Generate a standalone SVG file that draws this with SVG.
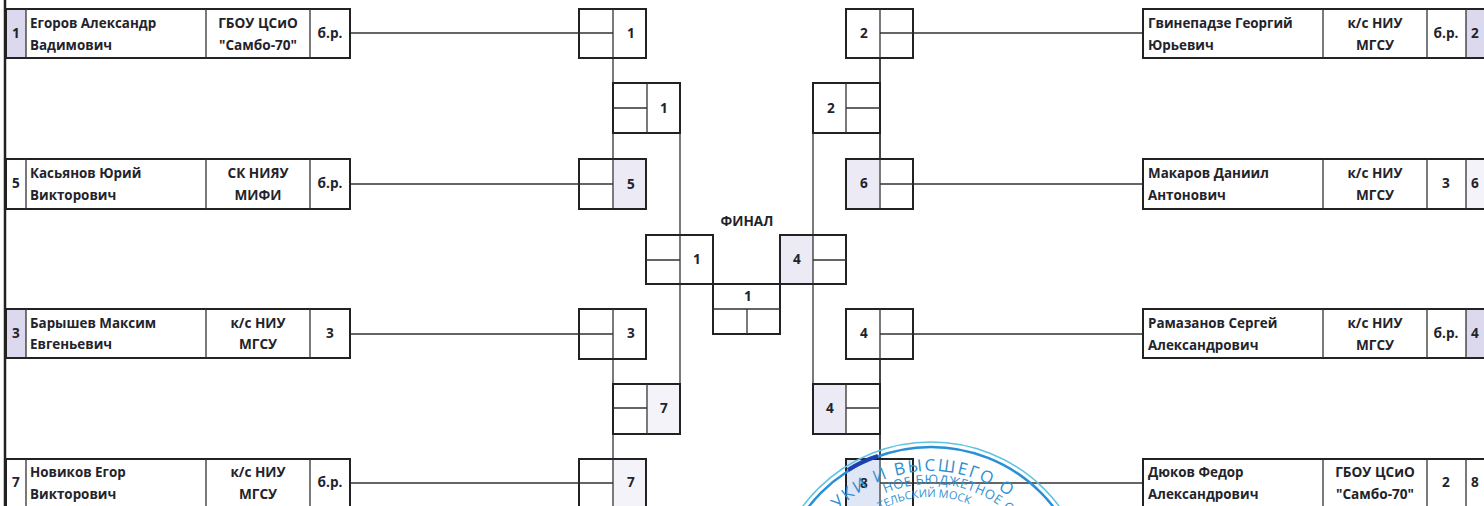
<svg xmlns="http://www.w3.org/2000/svg" width="1484" height="506" viewBox="0 0 1484 506">
<defs>
<path id="a1" d="M800 602A131 131 0 0 1 1062 602"/>
<path id="a2" d="M813 602A118 118 0 0 1 1049 602"/>
<path id="a3" d="M826 602A105 105 0 0 1 1036 602"/>
</defs>
<style>
text{font-family:"Open Sans","Liberation Sans",sans-serif;font-weight:700;fill:#23232b;font-size:13.6px}
.c{text-anchor:middle}
.n{font-size:13.4px}
.box{fill:#fff;stroke:#222;stroke-width:2}
.th{fill:none;stroke:#333;stroke-width:1.3}
.con{fill:none;stroke:#333;stroke-width:1.3}
.seed{fill:#dcd8ee}
.mid{fill:#ebeaf5}
.pale{fill:#f4f3f9}
.st{fill:none}
.stt{fill:#2f8fd0;font-weight:400}
</style>
<rect width="1484" height="506" fill="#fff"/>
<g id="connectors">
<path class="con" d="M5 0V506" style="stroke-width:2.5;stroke:#222"/>
<path class="con" d="M350 33H613M350 184H613M350 334H613M350 483H613"/>
<path class="con" d="M880 33H1143M880 184H1143M880 334H1143M880 483H1143"/>
<path class="con" d="M613 58V83M613 133V158M613 359V384M613 434V459"/>
<path class="con" d="M880 58V83M880 133V158M880 359V384M880 434V459" style="stroke-width:1.8"/>
<path class="con" d="M680 133V234M680 284V384M813 133V234M813 284V384"/>
</g>
<g id="p1"><rect class="box" x="6" y="9" width="344" height="49"/><rect class="seed" x="7" y="10" width="19" height="47"/><path class="th" d="M26 9V58M206 9V58M310 9V58"/><text class="c" x="16" y="38">1</text><text class="n" x="30" y="28">Егоров Александр</text><text class="n" x="30" y="50">Вадимович</text><text class="c" x="258" y="28">ГБОУ ЦСиО</text><text class="c" x="258" y="50">"Самбо-70"</text><text class="c" x="330" y="38">б.р.</text></g>
<g id="p5"><rect class="box" x="6" y="159" width="344" height="50"/><path class="th" d="M26 159V209M206 159V209M310 159V209"/><text class="c" x="16" y="188">5</text><text class="n" x="30" y="178">Касьянов Юрий</text><text class="n" x="30" y="200">Викторович</text><text class="c" x="258" y="178">СК НИЯУ</text><text class="c" x="258" y="200">МИФИ</text><text class="c" x="330" y="188">б.р.</text></g>
<g id="p3"><rect class="box" x="6" y="309" width="344" height="49"/><rect class="seed" x="7" y="310" width="19" height="47"/><path class="th" d="M26 309V358M206 309V358M310 309V358"/><text class="c" x="16" y="338">3</text><text class="n" x="30" y="328">Барышев Максим</text><text class="n" x="30" y="349">Евгеньевич</text><text class="c" x="258" y="328">к/с НИУ</text><text class="c" x="258" y="349">МГСУ</text><text class="c" x="330" y="338">3</text></g>
<g id="p7"><rect class="box" x="6" y="459" width="344" height="60"/><path class="th" d="M26 459V506M206 459V506M310 459V506"/><text class="c" x="16" y="487">7</text><text class="n" x="30" y="477">Новиков Егор</text><text class="n" x="30" y="499">Викторович</text><text class="c" x="258" y="477">к/с НИУ</text><text class="c" x="258" y="499">МГСУ</text><text class="c" x="330" y="487">б.р.</text></g>
<g id="p2"><rect class="box" x="1143" y="9" width="350" height="49"/><rect class="seed" x="1466" y="10" width="18" height="47"/><path class="th" d="M1323 9V58M1427 9V58M1466 9V58"/><text class="c" x="1475" y="38">2</text><text class="n" x="1148" y="28">Гвинепадзе Георгий</text><text class="n" x="1148" y="50">Юрьевич</text><text class="c" x="1375" y="28">к/с НИУ</text><text class="c" x="1375" y="50">МГСУ</text><text class="c" x="1446" y="38">б.р.</text></g>
<g id="p6"><rect class="box" x="1143" y="159" width="350" height="50"/><rect class="pale" x="1466" y="160" width="18" height="48"/><path class="th" d="M1323 159V209M1427 159V209M1466 159V209"/><text class="c" x="1475" y="188">6</text><text class="n" x="1148" y="178">Макаров Даниил</text><text class="n" x="1148" y="200">Антонович</text><text class="c" x="1375" y="178">к/с НИУ</text><text class="c" x="1375" y="200">МГСУ</text><text class="c" x="1446" y="188">3</text></g>
<g id="p4"><rect class="box" x="1143" y="309" width="350" height="49"/><rect class="seed" x="1466" y="310" width="18" height="47"/><path class="th" d="M1323 309V358M1427 309V358M1466 309V358"/><text class="c" x="1475" y="338">4</text><text class="n" x="1148" y="328">Рамазанов Сергей</text><text class="n" x="1148" y="350">Александрович</text><text class="c" x="1375" y="328">к/с НИУ</text><text class="c" x="1375" y="350">МГСУ</text><text class="c" x="1446" y="338">б.р.</text></g>
<g id="p8"><rect class="box" x="1143" y="459" width="350" height="60"/><path class="th" d="M1323 459V506M1427 459V506M1466 459V506"/><text class="c" x="1475" y="487">8</text><text class="n" x="1148" y="477">Дюков Федор</text><text class="n" x="1148" y="499">Александрович</text><text class="c" x="1375" y="477">ГБОУ ЦСиО</text><text class="c" x="1375" y="499">"Самбо-70"</text><text class="c" x="1446" y="487">2</text></g>
<g id="r1"><rect class="box" x="579" y="9" width="67" height="49"/><path class="th" d="M613 9V58M579 33H613"/><text class="c" x="631" y="38">1</text></g>
<g id="r5"><rect class="box" x="579" y="159" width="67" height="50"/><rect class="mid" x="614" y="160" width="31" height="48"/><path class="th" d="M613 159V209M579 184H613"/><text class="c" x="631" y="189">5</text></g>
<g id="r3"><rect class="box" x="579" y="309" width="67" height="50"/><path class="th" d="M613 309V359M579 334H613"/><text class="c" x="631" y="338">3</text></g>
<g id="r7"><rect class="box" x="579" y="459" width="67" height="60"/><rect class="pale" x="614" y="460" width="31" height="46"/><path class="th" d="M613 459V506M579 483H613"/><text class="c" x="631" y="487">7</text></g>
<g id="s1"><rect class="box" x="613" y="83" width="67" height="50"/><path class="th" d="M647 83V133M613 108H647"/><text class="c" x="664" y="113">1</text></g>
<g id="s7"><rect class="box" x="613" y="384" width="67" height="50"/><rect class="pale" x="648" y="385" width="31" height="48"/><path class="th" d="M647 384V434M613 408H647"/><text class="c" x="664" y="413">7</text></g>
<g id="f1"><rect class="box" x="646" y="235" width="67" height="49"/><path class="th" d="M680 235V284M646 260H680"/><text class="c" x="697" y="264">1</text></g>
<g id="f4"><rect class="box" x="780" y="235" width="66" height="49"/><rect class="mid" x="781" y="236" width="32" height="47"/><path class="th" d="M813 235V284M813 260H846"/><text class="c" x="797" y="264">4</text></g>
<g id="final"><text class="c" x="747" y="226">ФИНАЛ</text><rect class="box" x="713" y="284" width="67" height="50"/><path class="th" d="M713 309H780M747 309V334"/><text class="c" x="748" y="301">1</text></g>
<g id="s2"><rect class="box" x="813" y="83" width="67" height="50"/><path class="th" d="M846 83V133M846 108H880"/><text class="c" x="831" y="113">2</text></g>
<g id="s4"><rect class="box" x="813" y="384" width="67" height="50"/><rect class="mid" x="814" y="385" width="32" height="48"/><path class="th" d="M846 384V434M846 408H880"/><text class="c" x="830" y="413">4</text></g>
<g id="r2"><rect class="box" x="846" y="9" width="67" height="49"/><path class="th" d="M880 9V58M880 33H913"/><text class="c" x="864" y="38">2</text></g>
<g id="r6"><rect class="box" x="846" y="159" width="67" height="50"/><rect class="mid" x="847" y="160" width="32" height="48"/><path class="th" d="M880 159V209M880 184H913"/><text class="c" x="864" y="188">6</text></g>
<g id="r4"><rect class="box" x="846" y="309" width="67" height="50"/><path class="th" d="M880 309V359M880 334H913"/><text class="c" x="864" y="338">4</text></g>
<g id="r8"><rect class="box" x="846" y="459" width="67" height="60"/><rect x="847" y="460" width="32" height="46" fill="#dfe6f6"/><path class="th" d="M880 459V506M880 483H913"/><text class="c" x="864" y="488">8</text></g>
<g id="stamp">
<circle class="st" cx="931" cy="602" r="160" stroke="#5cc4e0" stroke-width="1.5"/>
<circle class="st" cx="931" cy="602" r="155" stroke="#2a8fd8" stroke-width="2.5"/>
<path class="st" stroke="#1f3fb0" stroke-width="4" d="M848 470Q862 461 878 456"/>
<text class="stt" style="font-size:17px;letter-spacing:2px"><textPath href="#a1" startOffset="75">НАУКИ И ВЫСШЕГО  О</textPath></text>
<text class="stt" style="font-size:13px;letter-spacing:.5px"><textPath href="#a2" startOffset="138">НОЕ БЮДЖЕТНОЕ О</textPath></text>
<text class="stt" style="font-size:11px"><textPath href="#a3" startOffset="112">ТЕЛЬСКИЙ МОСК</textPath></text>
</g>
</svg>
